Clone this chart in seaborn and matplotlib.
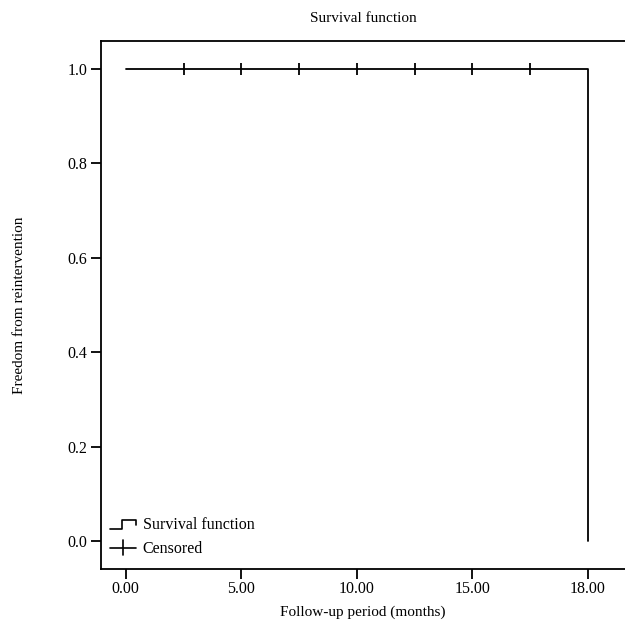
import pandas as pd
import seaborn as sns
import matplotlib.pyplot as plt
from matplotlib.lines import Line2D
from matplotlib.legend_handler import HandlerBase

# survival curve (event times / survival) and censored times
event_times = [0.0, 20.0]
survival = [1.0, 0.0]
censored_times = [2.5, 5.0, 7.5, 10.0, 12.5, 15.0, 17.5]
censored_surv = [1.0, 1.0, 1.0, 1.0, 1.0, 1.0, 1.0]
xtick_pos = [0, 5, 10, 15, 20]
xtick_labels = ["0.00", "5.00", "10.00", "15.00", "18.00"]
ytick_pos = [0.0, 0.2, 0.4, 0.6, 0.8, 1.0]

sns.set_style("ticks")
plt.rcParams["font.family"] = ["Liberation Serif", "DejaVu Serif"]
plt.rcParams["text.color"] = "black"
plt.rcParams["axes.labelcolor"] = "black"

fig = plt.figure(figsize=(6.25, 6.29), dpi=100)
ax = fig.add_axes([0.1616, 0.0954, 0.8384, 0.8394])

df_surv = pd.DataFrame({"time": event_times, "surv": survival})
df_cens = pd.DataFrame({"time": censored_times, "surv": censored_surv})

sns.lineplot(data=df_surv, x="time", y="surv", ax=ax, color="black",
             linewidth=1.3, drawstyle="steps-post")
sns.scatterplot(data=df_cens, x="time", y="surv", ax=ax, marker="|",
                color="black", s=70, linewidth=1.3, zorder=3)

ax.set_xlim(-1.07, 21.6)
ax.set_ylim(-0.059, 1.059)
ax.set_xticks(xtick_pos)
ax.set_xticklabels(xtick_labels)
ax.set_yticks(ytick_pos)
ax.set_yticklabels([f"{v:.1f}" for v in ytick_pos])
ax.tick_params(direction="out", length=7, width=1.3, labelsize=11.5, pad=2, colors="black")
ax.tick_params(axis="y", pad=3)
for s in ["left", "bottom", "top"]:
    ax.spines[s].set_linewidth(1.3)
    ax.spines[s].set_color("black")
ax.spines["right"].set_visible(False)

ax.set_xlabel("Follow-up period (months)", fontsize=11, labelpad=6)
ax.set_ylabel("Freedom from reintervention", fontsize=11, labelpad=30)
ax.set_title("Survival function", fontsize=11, pad=14)


class StepHandler(HandlerBase):
    def create_artists(self, legend, orig, xd, yd, w, h, fontsize, trans):
        xs = [xd, xd + w * 0.45, xd + w * 0.45, xd + w, xd + w]
        ys = [yd, yd, yd + h * 0.85, yd + h * 0.85, yd + h * 0.35]
        ln = Line2D(xs, ys, color="black", linewidth=1.2, transform=trans)
        return [ln]


class PlusHandler(HandlerBase):
    def create_artists(self, legend, orig, xd, yd, w, h, fontsize, trans):
        a = Line2D([xd, xd + w], [yd + h / 2, yd + h / 2], color="black",
                   linewidth=1.2, transform=trans)
        b = Line2D([xd + w / 2, xd + w / 2], [yd - h * 0.15, yd + h * 1.15], color="black",
                   linewidth=1.2, transform=trans)
        return [a, b]


h1 = Line2D([], [])
h2 = Line2D([], [], marker="+")
ax.legend([h1, h2], ["Survival function", "Censored"], loc="lower left",
          handler_map={h1: StepHandler(), h2: PlusHandler()},
          frameon=False, fontsize=11.5, handlelength=1.6, handletextpad=0.45,
          labelspacing=0.5, borderaxespad=0.0, bbox_to_anchor=(0.005, 0.01))

plt.savefig("out.png", dpi=100)
